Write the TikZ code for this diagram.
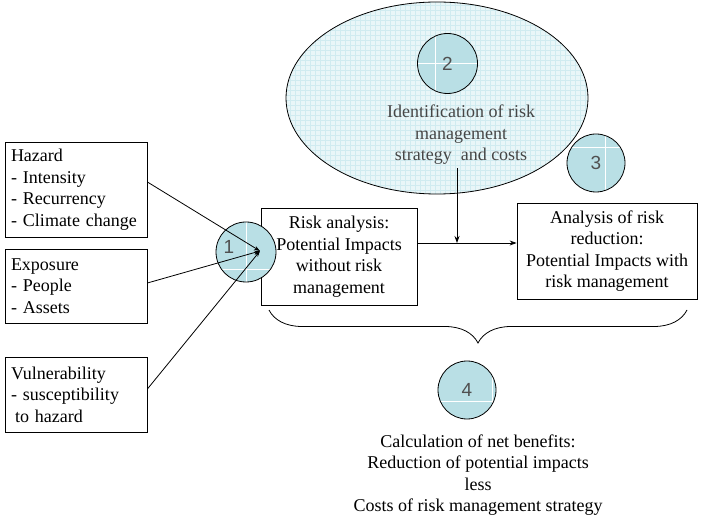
\documentclass[tikz,border=0pt]{standalone}
\usepackage{fontspec}
\setmainfont{Liberation Serif}
\newfontfamily\numfont{Liberation Sans}
\usetikzlibrary{shapes.geometric,arrows.meta,decorations.pathreplacing,calc}
\definecolor{circfill}{RGB}{185,223,229}
\definecolor{ellfill}{RGB}{233,246,248}
\definecolor{ellgrid}{RGB}{208,235,240}
\definecolor{numgray}{RGB}{80,80,80}
\definecolor{elltext}{RGB}{70,70,70}
\begin{document}
\begin{tikzpicture}[x=1pt,y=-1pt,
  every node/.style={font=\fontsize{18}{21.5}\selectfont},
  leftbox/.style={draw, line width=0.8pt, minimum width=142pt, text width=130pt,
    align=left, inner sep=0pt},
  midbox/.style={draw, line width=0.8pt, align=center, inner sep=0pt},
  numfnt/.style={font=\numfont\fontsize{19}{22}\selectfont, text=numgray},
  numcirc/.style={circle, draw, line width=0.8pt, fill=circfill, minimum size=#1,
    inner sep=0pt, numfnt},
  whitecross/.style 2 args={path picture={
    \draw[white, line width=0.7pt]
      ([xshift=#1]path picture bounding box.north) -- ([xshift=#1]path picture bounding box.south)
      ([yshift=#2]path picture bounding box.west) -- ([yshift=#2]path picture bounding box.east);}},
  feed/.style={line width=0.8pt, -{Stealth[length=6pt,width=4pt]}},
  flow/.style={line width=0.8pt, -{Stealth[length=7pt,width=5pt]}}
]
\useasboundingbox (0,0) rectangle (704,518);

% input boxes on the left
\node[leftbox, minimum height=95pt] (haz) at (76,189.5)
  {Hazard\\- Intensity\\- Recurrency\\- Climate change};
\node[leftbox, minimum height=74pt] (exp) at (76,286)
  {Exposure\\- People\\- Assets};
\node[leftbox, minimum height=75pt] (vul) at (76,394.5)
  {Vulnerability\\- susceptibility\\\hspace*{4pt}to hazard};

% analysis boxes
\node[midbox, minimum width=156pt, minimum height=97pt] (risk) at (339,256.5)
  {Risk analysis:\\Potential Impacts\\without risk\\management};
\node[midbox, minimum width=180pt, minimum height=96pt] (red) at (607,251)
  {Analysis of risk\\reduction:\\Potential Impacts with\\risk management};

% strategy ellipse with its fine grid
\node[ellipse, minimum width=302pt, minimum height=192pt, fill=ellfill, inner sep=0pt] (ell) at (437,98) {};
\begin{scope}
  \clip (437,98) ellipse [x radius=151, y radius=96];
  \draw[ellgrid, line width=0.35pt, step=5pt] (280,0) grid (595,200);
\end{scope}
\node[ellipse, minimum width=302pt, minimum height=192pt, draw, line width=0.8pt, inner sep=0pt] at (437,98) {};
\node[align=center, text=elltext] (ident) at (461,135)
  {Identification of risk\\management\\strategy\ \ and costs};

% numbered markers
\node[numcirc=60pt, whitecross={-12.5pt}{0pt}] (c2) at (447.5,63.5) {2};
\node[numcirc=58pt, whitecross={9pt}{16pt}] (c3) at (596,163) {3};
\node[numcirc=60pt, whitecross={0pt}{-17pt}] (c1) at (246,252) {};
\node[numfnt] (n1) at (229,247) {1};
\node[numcirc=58pt, whitecross={25pt}{-11pt}] (c4) at (467,390) {4};

% inputs converge on the risk analysis
\coordinate (hub) at (260,251);
\draw[feed] ([yshift=7.5pt]haz.east) -- (hub);
\draw[feed] ([yshift=3pt]exp.east) -- (hub);
\draw[feed] ([yshift=5.5pt]vul.east) -- (hub);

% main flow
\coordinate (merge) at (457,243);
\draw[flow] ([yshift=13.5pt]risk.east) -- ([yshift=8pt]red.west);
\draw[flow] (merge |- ident.south) -- (merge);

% brace spanning both analyses
\coordinate (bl) at (269,310);
\coordinate (br) at (687,310);
\draw[line width=0.8pt, decorate, decoration={brace, mirror, amplitude=33pt}] (bl) -- (br);

% net benefit summary
\node[align=center] (net) at (478,475)
  {Calculation of net benefits:\\Reduction of potential impacts\\less\\Costs of risk management strategy};
\end{tikzpicture}
\end{document}
